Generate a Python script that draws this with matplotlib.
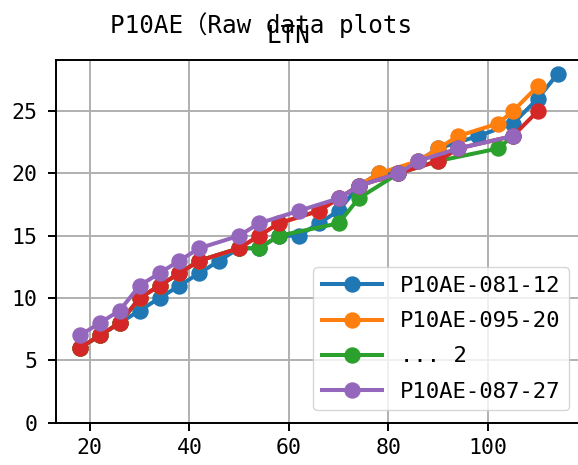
import matplotlib
matplotlib.use('Agg')
import matplotlib.pyplot as plt

plt.rcParams['font.family'] = ['DejaVu Sans Mono', 'Noto Sans CJK JP']

# series
x_081 = [18, 22, 26, 30, 34, 38, 42, 46, 50, 54, 58, 62, 66, 70, 74, 78, 82, 86, 90, 98, 105, 110, 114]
y_081 = [6, 7, 8, 9, 10, 11, 12, 13, 14, 14, 15, 15, 16, 17, 19, 20, 20, 21, 22, 23, 24, 26, 28]

x_095 = [18, 22, 26, 30, 34, 38, 42, 50, 54, 58, 66, 70, 74, 78, 86, 90, 94, 102, 105, 110]
y_095 = [6, 7, 8, 10, 11, 12, 13, 14, 15, 16, 17, 18, 19, 20, 21, 22, 23, 24, 25, 27]

x_dots = [18, 22, 26, 30, 34, 38, 42, 50, 54, 58, 70, 74, 82, 90, 102, 105]
y_dots = [6, 7, 8, 10, 11, 12, 13, 14, 14, 15, 16, 18, 20, 21, 22, 23]

x_red = [18, 22, 26, 30, 34, 38, 42, 50, 54, 58, 66, 70, 74, 82, 90, 94, 105, 110]
y_red = [6, 7, 8, 10, 11, 12, 13, 14, 15, 16, 17, 18, 19, 20, 21, 22, 23, 25]

x_087 = [18, 22, 26, 30, 34, 38, 42, 50, 54, 62, 70, 74, 82, 86, 94, 105]
y_087 = [7, 8, 9, 11, 12, 13, 14, 15, 16, 17, 18, 19, 20, 21, 22, 23]

series = [(x_081, y_081, 'P10AE-081-12'),
          (x_095, y_095, 'P10AE-095-20'),
          (x_dots, y_dots, '... 2'),
          (x_red, y_red, '_unlabelled'),
          (x_087, y_087, 'P10AE-087-27')]

fig = plt.figure(figsize=(5.78, 4.65), dpi=100)
ax = fig.add_axes([56/578, 42.3/465, 525.6/578, 362.7/465])

for xs, ys, lab in series:
    ax.plot(xs, ys, marker='o', markersize=10.8, linewidth=2.9, label=lab)

ax.set_ylim(bottom=0)
ax.grid(True, color='#b0b0b0', linewidth=1.4)
ax.set_axisbelow(True)
for sp in ax.spines.values():
    sp.set_linewidth(1.4)
ax.tick_params(axis='both', labelsize=15.5, length=5.8, width=1.4)
ax.tick_params(axis='x', pad=5.5)
ax.tick_params(axis='y', pad=7.5)

ax.legend(loc='lower right', fontsize=16, handlelength=2.7,
          labelspacing=0.68, borderaxespad=0.55)

fig.text(110/578, (465-33)/465, 'P10AE（Raw data plots', fontsize=17.5, ha='left', va='baseline')
fig.text(288/578, (465-43)/465, 'LTN', fontsize=17.5, ha='center', va='baseline')

fig.savefig('out.png', dpi=100)
